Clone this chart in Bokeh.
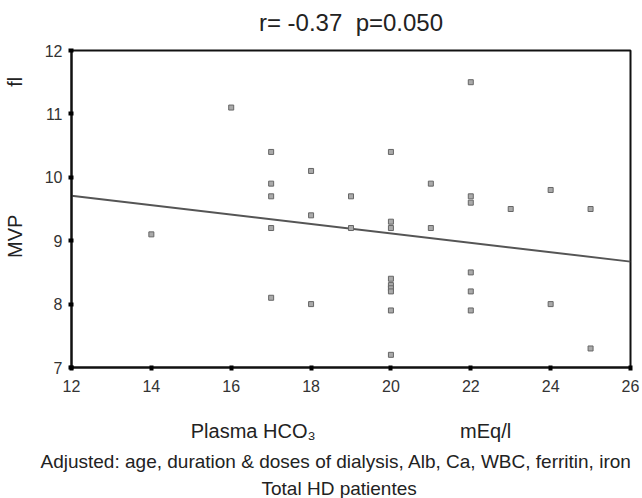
from bokeh.plotting import figure
from bokeh.models import Range1d, FixedTicker, Title, LinearAxis
from bokeh.embed import file_html
from bokeh.resources import INLINE

# data
hco3 = [14, 16,
        17, 17, 17, 17, 17,
        18, 18, 18,
        19, 19,
        20, 20, 20, 20, 20, 20, 20, 20, 20,
        21, 21,
        22, 22, 22, 22, 22, 22,
        23,
        24, 24,
        25, 25]
mvp = [9.1, 11.1,
       10.4, 9.9, 9.7, 9.2, 8.1,
       10.1, 9.4, 8.0,
       9.7, 9.2,
       10.4, 9.3, 9.2, 8.4, 8.3, 8.25, 8.2, 7.9, 7.2,
       9.9, 9.2,
       11.5, 9.7, 9.6, 8.5, 8.2, 7.9,
       9.5,
       9.8, 8.0,
       9.5, 7.3]
fit_x = [12, 26]
fit_y = [9.71, 8.67]
x_ticks = [12, 14, 16, 18, 20, 22, 24, 26]
y_ticks = [7, 8, 9, 10, 11, 12]

NB = "\u00a0"
title_text = "r=" + NB + "-0.37" + NB * 2 + "p=0.050"
note1 = "Adjusted: age, duration & doses of dialysis, Alb, Ca, WBC, ferritin, iron"
note2 = "Total HD patientes"

FONT = "Liberation Sans"

W, H = 642, 498
p = figure(width=W, height=H, output_backend="svg", toolbar_location=None,
           x_range=Range1d(12, 26), y_range=Range1d(7, 12),
           min_border_left=70, min_border_right=W - 630,
           min_border_top=50, min_border_bottom=H - 370)
p.xgrid.visible = False
p.ygrid.visible = False
p.outline_line_color = "#111111"
p.outline_line_width = 2
p.background_fill_color = "white"
p.border_fill_color = "white"

for ax in (p.xaxis[0], p.yaxis[0]):
    ax.axis_line_color = "#111111"
    ax.axis_line_width = 2
    ax.major_tick_line_color = "black"
    ax.major_tick_line_width = 4
    ax.major_tick_out = 3
    ax.major_tick_in = 2
    ax.minor_tick_line_color = None
    ax.major_label_text_font = FONT
    ax.major_label_text_font_size = "16px"
    ax.major_label_text_color = "#333333"
    ax.axis_label_text_font = FONT
    ax.axis_label_text_font_style = "normal"
    ax.axis_label_text_font_size = "20px"
    ax.axis_label_text_color = "#222222"

p.xaxis.ticker = FixedTicker(ticks=x_ticks)
p.yaxis.ticker = FixedTicker(ticks=y_ticks)
p.xaxis.major_label_standoff = 9
p.yaxis.major_label_standoff = 6

p.xaxis.axis_label = "Plasma HCO\u2083" + NB * 26 + "mEq/l"
p.xaxis.axis_label_standoff = 25
p.yaxis.axis_label = NB * 15 + "MVP" + NB * 23 + "fl"
p.yaxis.axis_label_standoff = 16

p.line(fit_x, fit_y, line_color="#555555", line_width=2)
p.scatter(hco3, mvp, marker="square", size=5, fill_color="#aaaaaa",
          line_color="#666666", line_width=1)

# title carried by a bare axis above the frame
top_axis = LinearAxis(ticker=FixedTicker(ticks=[]), axis_label=title_text,
                      axis_line_color=None, major_tick_line_color=None,
                      minor_tick_line_color=None, major_tick_out=0, major_tick_in=0,
                      major_label_standoff=0, axis_label_standoff=15,
                      axis_label_text_font=FONT, axis_label_text_font_size="24px",
                      axis_label_text_font_style="normal", axis_label_text_color="#222222")
p.add_layout(top_axis, "above")

p.add_layout(Title(text=note1, align="left", text_font=FONT,
                   text_font_size="19px", text_font_style="normal",
                   text_color="#222222", standoff=8, offset=-31), "below")
p.add_layout(Title(text=note2, align="left", text_font=FONT,
                   text_font_size="19px", text_font_style="normal",
                   text_color="#222222", standoff=0, offset=190), "below")

open("out.html", "w").write(file_html(p, INLINE))
